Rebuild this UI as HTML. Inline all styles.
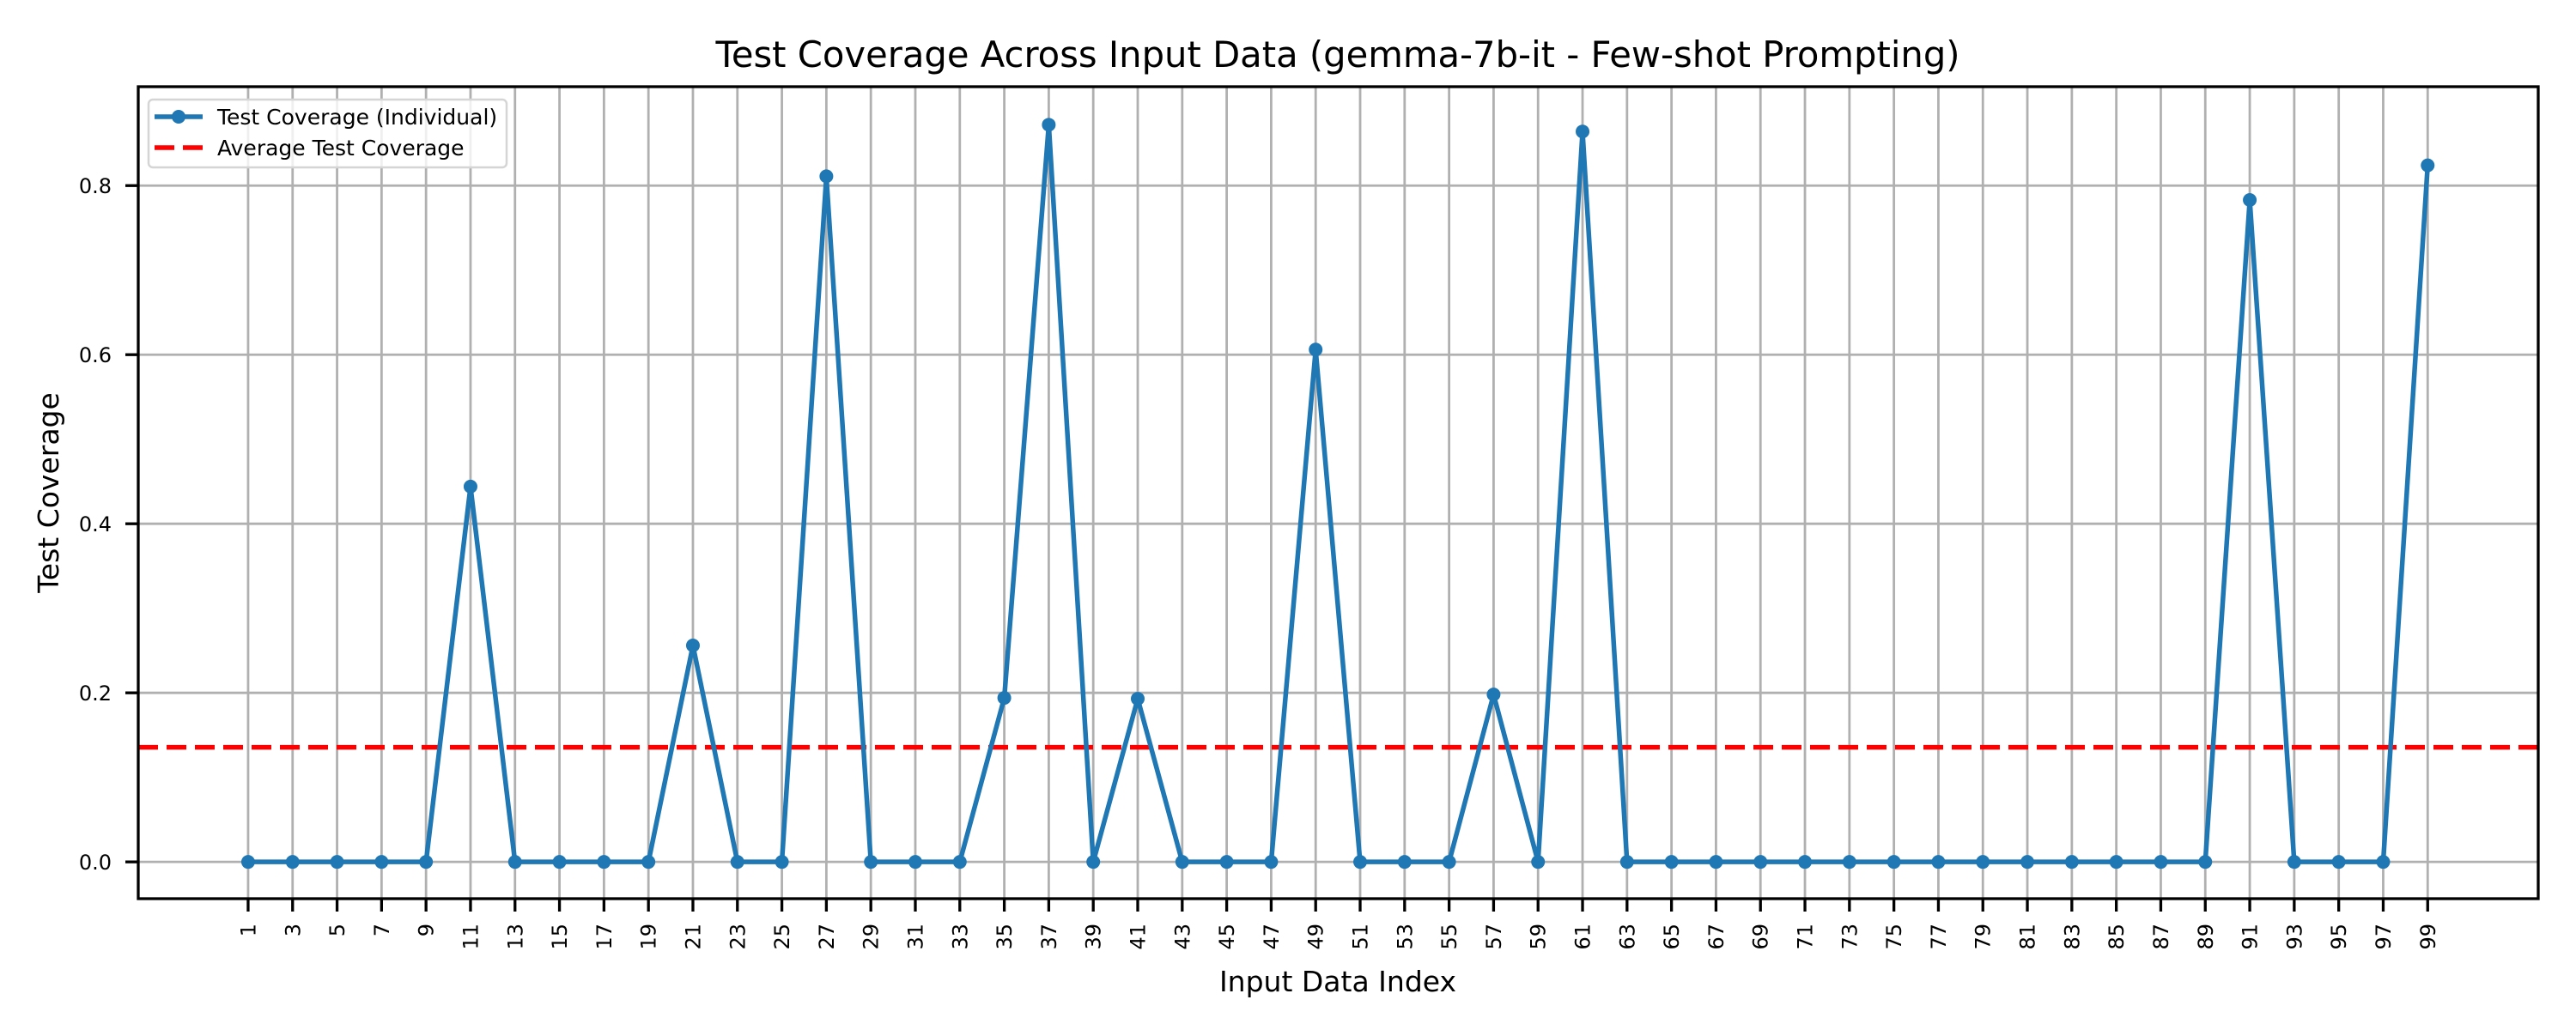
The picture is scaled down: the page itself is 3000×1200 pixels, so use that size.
<!DOCTYPE html>
<html><head><meta charset="utf-8">
<style>
html,body{margin:0;padding:0;background:#fff;}
svg{display:block;font-family:"DejaVu Sans","Liberation Sans",sans-serif;}
</style></head>
<body>
<svg id="chart" width="3000" height="1200" viewBox="0 0 3000 1200" xmlns="http://www.w3.org/2000/svg">
<rect x="0" y="0" width="3000" height="1200" fill="#fff"/>
<g id="grid"></g>
<g id="avg"></g>
<g id="series"></g>
<g id="axes"></g>
<text x="1558" y="78" font-size="41.7" text-anchor="middle" fill="#000">Test Coverage Across Input Data (gemma-7b-it - Few-shot Prompting)</text>
<text x="1558" y="1155" font-size="33" text-anchor="middle" fill="#000">Input Data Index</text>
<text x="0" y="0" font-size="33" text-anchor="middle" fill="#000" transform="translate(68,574) rotate(-90)">Test Coverage</text>
<g>
<rect x="173" y="116" width="417" height="79" rx="5" fill="#fff" fill-opacity="0.8" stroke="#d5d5d5" stroke-width="2.5"/>
<g>
<line x1="180" y1="136" x2="236" y2="136" stroke="#1f77b4" stroke-width="5.5"/>
<circle cx="208" cy="136" r="8" fill="#1f77b4"/>
<text x="253" y="145" font-size="25" fill="#000">Test Coverage (Individual)</text>
</g>
<g>
<line x1="180" y1="172" x2="236" y2="172" stroke="#ff0000" stroke-width="5.5" stroke-dasharray="23,10"/>
<text x="253" y="181" font-size="25" fill="#000">Average Test Coverage</text>
</g>
</g>
</svg>
<script>
const indices = [1,3,5,7,9,11,13,15,17,19,21,23,25,27,29,31,33,35,37,39,41,43,45,47,49,51,53,55,57,59,61,63,65,67,69,71,73,75,77,79,81,83,85,87,89,91,93,95,97,99];
const coverage = [0,0,0,0,0,0.444,0,0,0,0,0.256,0,0,0.811,0,0,0,0.194,0.872,0,0.193,0,0,0,0.606,0,0,0,0.198,0,0.864,0,0,0,0,0,0,0,0,0,0,0,0,0,0,0.783,0,0,0,0.824];
const averageCoverage = [0.1356];
const yTicks = [0.0,0.2,0.4,0.6,0.8];
const yTickLabels = ["0.0","0.2","0.4","0.6","0.8"];

const NS = "http://www.w3.org/2000/svg";
const L = 161, R = 2956, T = 101, B = 1047;
const xMin = -3.94, xMax = 103.97;
const yMin = -0.0435, yMax = 0.917;
function xs(v){ return L + (v - xMin) / (xMax - xMin) * (R - L); }
function ys(v){ return B - (v - yMin) / (yMax - yMin) * (B - T); }
function mk(tag, attrs, parent){ const e = document.createElementNS(NS, tag); for (const k in attrs) e.setAttribute(k, attrs[k]); parent.appendChild(e); return e; }

const grid = document.getElementById('grid');
const axes = document.getElementById('axes');
indices.forEach((v, i) => {
  const x = xs(v);
  const gl = mk('line', {x1:x, y1:T, x2:x, y2:B, stroke:'#b0b0b0', 'stroke-width':2.8}, grid);
  
  
  const tk = mk('line', {x1:x, y1:B, x2:x, y2:B+15, stroke:'#000', 'stroke-width':3.3}, axes);
  
  
  const tl = mk('text', {x:0, y:0, 'font-size':24, 'text-anchor':'end', fill:'#000', transform:'translate(' + (x+8.5) + ',' + (B+29) + ') rotate(-90)'}, axes);
  tl.textContent = String(v);
  
  
});
yTicks.forEach((v, i) => {
  const y = ys(v);
  const gl = mk('line', {x1:L, y1:y, x2:R, y2:y, stroke:'#b0b0b0', 'stroke-width':2.8}, grid);
  
  
  const tk = mk('line', {x1:L-15, y1:y, x2:L, y2:y, stroke:'#000', 'stroke-width':3.3}, axes);
  
  
  const tl = mk('text', {x:L-31, y:y+8.7, 'font-size':24, 'text-anchor':'end', fill:'#000'}, axes);
  tl.textContent = yTickLabels[i];
  
  
});
const frame = mk('rect', {x:L, y:T, width:R-L, height:B-T, fill:'none', stroke:'#000', 'stroke-width':3.3}, axes);



const avgG = document.getElementById('avg');
const av = mk('line', {x1:L, y1:ys(averageCoverage[0]), x2:R, y2:ys(averageCoverage[0]), stroke:'#ff0000', 'stroke-width':5.5, 'stroke-dasharray':'23,10'}, avgG);



const ser = document.getElementById('series');
const pts = indices.map((v, i) => xs(v).toFixed(2) + ',' + ys(coverage[i]).toFixed(2)).join(' ');
const pl = mk('polyline', {points:pts, fill:'none', stroke:'#1f77b4', 'stroke-width':5.5, 'stroke-linejoin':'round'}, ser);


indices.forEach((v, i) => {
  const c = mk('circle', {cx:xs(v), cy:ys(coverage[i]), r:8, fill:'#1f77b4'}, ser);
  
  
});
</script>
</body></html>
